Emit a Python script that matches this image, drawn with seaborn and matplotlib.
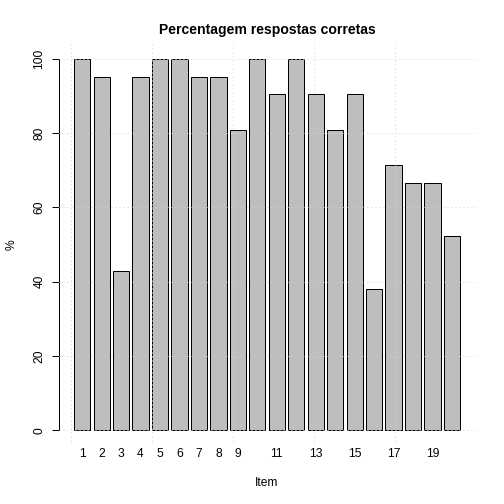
import matplotlib
matplotlib.use("Agg")
import matplotlib.pyplot as plt
import seaborn as sns
import numpy as np
import pandas as pd

# data (percent correct per item, out of 21 respondents)
items = list(range(1, 21))
percent = [100, 95.24, 42.86, 95.24, 100, 100, 95.24, 95.24, 80.95, 100,
           90.48, 100, 90.48, 80.95, 90.48, 38.10, 71.43, 66.67, 66.67, 52.38]
shown_labels = [1, 2, 3, 4, 5, 6, 7, 8, 9, 11, 13, 15, 17, 19]

# R barplot layout: width 1, space 0.2
centers = [0.7 + 1.2 * (i - 1) for i in items]
df = pd.DataFrame({"pos": centers, "pct": percent})

sns.set_style("white")
plt.rcParams["font.family"] = ["Liberation Sans", "DejaVu Sans"]
plt.rcParams["text.color"] = "black"
plt.rcParams["axes.labelcolor"] = "black"
plt.rcParams["xtick.color"] = "black"
plt.rcParams["ytick.color"] = "black"

fig = plt.figure(figsize=(7, 7), dpi=72)
ax = fig.add_axes([58.6 / 504, 59 / 504, 416.9 / 504, 401 / 504])

sns.barplot(data=df, x="pos", y="pct", native_scale=True, width=1 / 1.2,
            color="#BEBEBE", saturation=1, edgecolor="black", linewidth=1,
            ax=ax, zorder=1)

xmin, xmax = 0.2, 24.0
pad = (xmax - xmin) * 0.04
ax.set_xlim(xmin - pad, xmax + pad)
ax.set_ylim(-4, 104)

# grid like R's grid() drawn on top
for gx in [0, 5, 10, 15, 20]:
    ax.axvline(gx, color="#D3D3D3", linestyle=(0, (1, 3)), linewidth=1, zorder=3)
for gy in [0, 20, 40, 60, 80, 100]:
    ax.axhline(gy, color="#D3D3D3", linestyle=(0, (1, 3)), linewidth=1, zorder=3)

ax.set_xticks([centers[i - 1] for i in shown_labels])
ax.set_xticklabels([str(i) for i in shown_labels], fontsize=12)
ax.tick_params(axis="x", length=0, pad=3, bottom=False)

ax.set_yticks([0, 20, 40, 60, 80, 100])
ax.set_yticklabels(["0", "20", "40", "60", "80", "100"], fontsize=12,
                   rotation=90, va="center")
ax.tick_params(axis="y", left=True, direction="out", length=7, width=1,
               pad=6, color="black")

for s in ["top", "right", "bottom"]:
    ax.spines[s].set_visible(False)
ax.spines["left"].set_bounds(0, 100)
ax.spines["left"].set_color("black")
ax.spines["left"].set_linewidth(1)

ax.set_xlabel("Item", fontsize=12, labelpad=17)
ax.set_ylabel("%", fontsize=12, labelpad=16)
ax.set_title("Percentagem respostas corretas", fontsize=14, fontweight="bold", pad=10)

fig.savefig("out.png", dpi=72)
